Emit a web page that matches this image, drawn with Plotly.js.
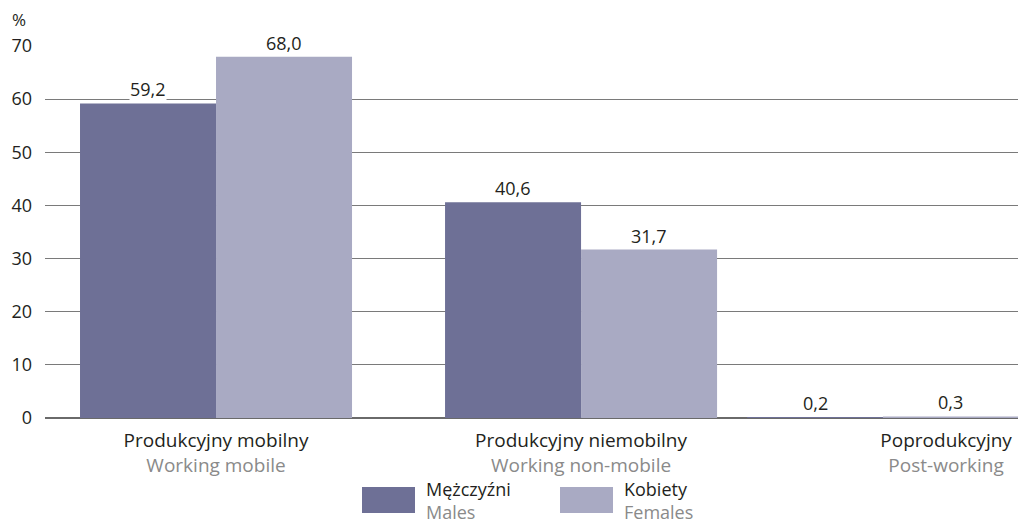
<!DOCTYPE html>
<html><head><meta charset="utf-8">
<script src="https://cdn.plot.ly/plotly-3.0.1.min.js"></script>
<style>html,body{margin:0;padding:0;background:#fff}#chart{width:1024px;height:529px}</style>
</head><body><div id="chart"></div>
<script>
const categoriesPL = ["Produkcyjny mobilny", "Produkcyjny niemobilny", "Poprodukcyjny"];
const categoriesEN = ["Working mobile", "Working non-mobile", "Post-working"];
const males = [59.2, 40.6, 0.2];
const females = [68.0, 31.7, 0.3];
const seriesPL = ["Mężczyźni", "Kobiety"];
const seriesEN = ["Males", "Females"];
const yTicks = [0, 10, 20, 30, 40, 50, 60, 70];

const C_M = "#6e7096", C_F = "#a9aac3", TXT = "#231f20", SUB = "#8a8a8a";
const FONT = "Open Sans, sans-serif";
const FS = 18, FX = 19;
const W = 0.3726;
const fmt = v => v.toFixed(1).replace(".", ",");
const cats = categoriesPL.map((c, i) => c + "<br><span style='color:" + SUB + "'>" + categoriesEN[i] + "</span>");

const maleOffset = [-W, -W, -0.545];
const femaleOffset = [0, 0, -0.173];

const traces = [
  {type: "bar", x: cats, y: males, name: seriesPL[0], marker: {color: C_M}, width: W, offset: maleOffset, hoverinfo: "skip"},
  {type: "bar", x: cats, y: females, name: seriesPL[1], marker: {color: C_F}, width: W, offset: femaleOffset, hoverinfo: "skip"}
];

const ann = [];
males.forEach((v, i) => ann.push({x: i + maleOffset[i] + W / 2, y: v, xref: "x", yref: "y", text: fmt(v), showarrow: false,
  yanchor: "bottom", yshift: 1, font: {family: FONT, size: FS, color: TXT}, bgcolor: "#fff", borderpad: 0}));
females.forEach((v, i) => ann.push({x: i + femaleOffset[i] + W / 2, y: v, xref: "x", yref: "y", text: fmt(v), showarrow: false,
  yanchor: "bottom", yshift: 1, font: {family: FONT, size: FS, color: TXT}, bgcolor: "#fff", borderpad: 0}));
ann.push({xref: "paper", yref: "paper", x: -0.036, y: 1.035, xanchor: "left", yanchor: "bottom", text: "%", showarrow: false,
  font: {family: FONT, size: 17, color: TXT}});

const px = v => (v - 45) / 973, py = v => (418 - v) / 372;
const legendX = [362, 560];
const shapes = [];
[C_M, C_F].forEach((c, i) => {
  shapes.push({type: "rect", xref: "paper", yref: "paper", x0: px(legendX[i]), x1: px(legendX[i] + 53), y0: py(513), y1: py(487),
    fillcolor: c, line: {width: 0}});
  ann.push({xref: "paper", yref: "paper", x: px(legendX[i] + 62), y: py(475), xanchor: "left", yanchor: "top", align: "left",
    showarrow: false, text: seriesPL[i] + "<br><span style='color:" + SUB + "'>" + seriesEN[i] + "</span>",
    font: {family: FONT, size: FS, color: TXT}});
});

const layout = {
  width: 1024, height: 529,
  margin: {l: 45, r: 6, t: 46, b: 111},
  paper_bgcolor: "#fff", plot_bgcolor: "#fff",
  showlegend: false,
  font: {family: FONT, size: FS, color: TXT},
  xaxis: {type: "category", range: [-0.4685, 2.197], showgrid: false, ticks: "", showline: false, zeroline: false,
    ticklabelstandoff: 9, tickfont: {family: FONT, size: FX, color: TXT}, fixedrange: true},
  yaxis: {range: [0, 70], tickvals: yTicks, ticktext: yTicks.map(String), showgrid: true, gridcolor: "#7a7a7a", gridwidth: 1,
    zeroline: true, zerolinecolor: "#6a6a6a", zerolinewidth: 2, ticks: "", showline: false, ticklabelstandoff: 12,
    tickfont: {family: FONT, size: FS, color: TXT}, fixedrange: true},
  annotations: ann, shapes: shapes
};
Plotly.newPlot("chart", traces, layout, {displayModeBar: false, staticPlot: true});
</script></body></html>
